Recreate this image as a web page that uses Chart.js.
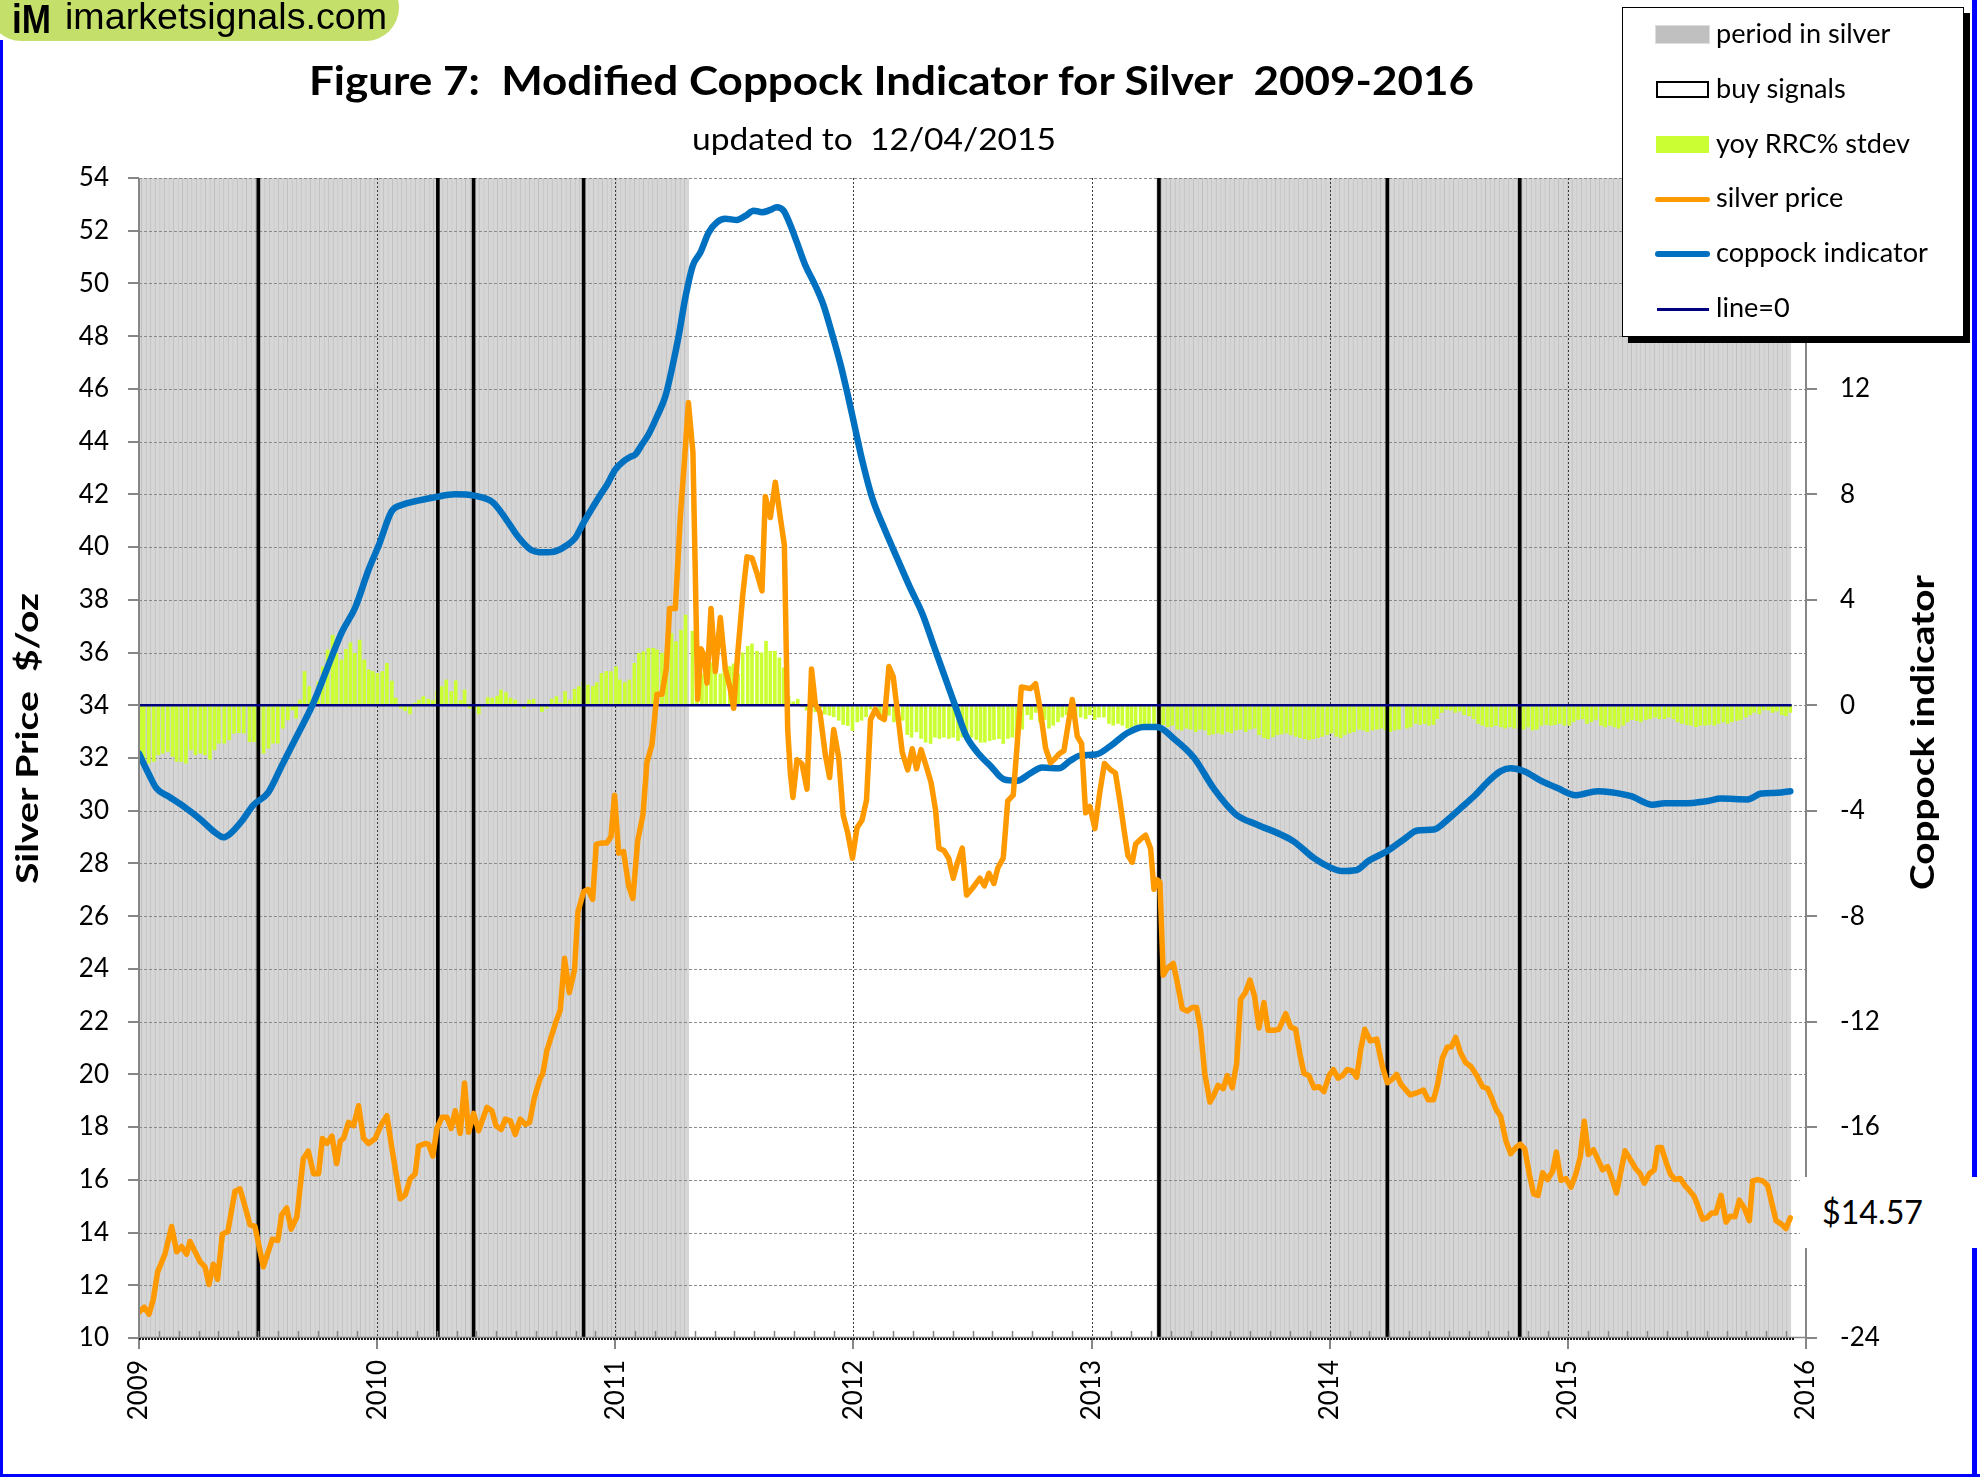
<!DOCTYPE html>
<html><head><meta charset="utf-8">
<title>Figure 7: Modified Coppock Indicator for Silver 2009-2016</title>
<script src="https://cdn.jsdelivr.net/npm/chart.js@4.4.1/dist/chart.umd.min.js"></script>
<style>
html,body{margin:0;padding:0;background:#fff;overflow:hidden;}
#wrap{position:relative;width:1980px;height:1477px;overflow:hidden;background:#fff;}
#c{position:absolute;left:0;top:0;}
.t{position:absolute;white-space:nowrap;font-family:Lato,'Open Sans',sans-serif;color:#000;line-height:normal;}
.b{font-weight:700;}
#logo{position:absolute;left:-12px;top:-26px;width:411px;height:67px;border-radius:34px;background:#c4df6a;}
.blue{position:absolute;background:#0000ff;}
#legend{position:absolute;left:1622px;top:7px;width:342px;height:330px;box-sizing:border-box;border:1.5px solid #000;background:#fff;box-shadow:6px 6px 0 #000;}
.sw{position:absolute;box-sizing:border-box;}
#lastbox{position:absolute;left:1800px;top:1177px;width:180px;height:71px;background:#fff;}
</style></head>
<body>
<div id="wrap">
  <canvas id="c" width="1980" height="1477"></canvas>
  <div class="blue" style="left:0;top:40px;width:3px;height:1437px;"></div>
  <div class="blue" style="left:1972px;top:0;width:5px;height:1477px;"></div>
  <div class="blue" style="left:0;top:1474px;width:1980px;height:3px;"></div>
  <div id="logo"></div>
  <div class="t b" id="logoIM" style="font-family:'Liberation Sans',Arial,sans-serif;font-size:41px;">iM</div>
  <div class="t" id="logoTxt" style="font-family:'Liberation Sans',Arial,sans-serif;font-size:37px;">imarketsignals.com</div>
  <div class="t b" id="title" style="font-size:40px;">Figure 7:&nbsp; Modified Coppock Indicator for Silver&nbsp; 2009-2016</div>
  <div class="t" id="subtitle" style="font-size:30px;">updated to&nbsp; 12/04/2015</div>
  <div class="t b" id="ytitle" style="font-size:31px;">Silver Price&nbsp; $/oz</div>
  <div class="t b" id="y1title" style="font-size:33px;">Coppock indicator</div>
  <div id="legend"></div>
  <div id="lastbox"></div>
  <div class="t" id="lastlabel" style="font-size:33px;">$14.57</div>
</div>
<script>
// ---------------- DATA ----------------
// silver price, $/oz : [decimal year, price]
const silverPrice = [
[2009.000,10.98],[2009.022,11.17],[2009.042,10.90],[2009.060,11.46],[2009.078,12.50],[2009.109,13.18],[2009.137,14.23],[2009.158,13.27],[2009.179,13.47],[2009.200,13.18],[2009.214,13.66],[2009.256,12.90],[2009.277,12.70],[2009.294,12.03],[2009.312,12.80],[2009.330,12.22],[2009.350,13.94],[2009.373,14.04],[2009.403,15.57],[2009.424,15.66],[2009.445,15.00],[2009.466,14.29],[2009.487,14.23],[2009.522,12.70],[2009.560,13.75],[2009.583,13.70],[2009.599,14.67],[2009.620,14.93],[2009.639,14.13],[2009.663,14.60],[2009.690,16.80],[2009.711,17.09],[2009.733,16.23],[2009.754,16.23],[2009.770,17.57],[2009.789,17.38],[2009.810,17.66],[2009.830,16.62],[2009.845,17.47],[2009.859,17.57],[2009.880,18.18],[2009.901,18.05],[2009.922,18.81],[2009.943,17.57],[2009.964,17.38],[2009.992,17.57],
[2010.020,18.14],[2010.041,18.43],[2010.062,17.19],[2010.097,15.28],[2010.118,15.43],[2010.139,16.04],[2010.160,16.23],[2010.174,17.28],[2010.202,17.38],[2010.216,17.34],[2010.234,16.90],[2010.251,17.95],[2010.272,18.37],[2010.293,18.37],[2010.311,17.95],[2010.328,18.62],[2010.349,17.76],[2010.367,19.67],[2010.384,17.80],[2010.405,18.52],[2010.426,17.86],[2010.461,18.75],[2010.482,18.62],[2010.499,18.05],[2010.521,17.91],[2010.538,18.30],[2010.559,18.24],[2010.580,17.72],[2010.601,18.30],[2010.622,18.10],[2010.640,18.18],[2010.661,19.14],[2010.685,19.86],[2010.695,20.00],[2010.713,20.91],[2010.751,22.00],[2010.769,22.44],[2010.787,24.40],[2010.807,23.10],[2010.829,23.97],[2010.843,26.16],[2010.867,26.93],[2010.885,27.02],[2010.905,26.64],[2010.920,28.72],[2010.944,28.78],[2010.965,28.78],[2010.982,29.02],[2010.997,30.59],
[2011.014,28.39],[2011.035,28.45],[2011.056,27.15],[2011.074,26.67],[2011.094,28.87],[2011.116,29.83],[2011.133,31.84],[2011.154,32.50],[2011.175,34.42],[2011.196,34.42],[2011.214,35.38],[2011.228,37.67],[2011.252,37.67],[2011.273,41.12],[2011.290,43.22],[2011.307,45.48],[2011.326,43.60],[2011.336,39.00],[2011.346,34.23],[2011.360,36.14],[2011.374,35.86],[2011.385,34.84],[2011.402,37.67],[2011.420,35.28],[2011.441,37.33],[2011.462,35.38],[2011.483,34.61],[2011.497,33.89],[2011.514,35.95],[2011.536,38.25],[2011.553,39.63],[2011.574,39.59],[2011.595,39.00],[2011.616,38.34],[2011.630,41.92],[2011.651,41.12],[2011.672,42.46],[2011.693,41.12],[2011.710,40.07],[2011.724,33.08],[2011.735,31.45],[2011.746,30.50],[2011.763,31.93],[2011.784,31.78],[2011.805,30.82],[2011.824,35.38],[2011.840,34.04],[2011.859,33.75],[2011.882,32.12],[2011.900,31.26],[2011.917,33.08],[2011.938,32.03],[2011.957,29.83],[2011.976,29.16],[2011.996,28.20],
[2012.015,29.35],[2012.036,29.64],[2012.055,30.40],[2012.072,33.46],[2012.092,33.85],[2012.110,33.56],[2012.130,33.46],[2012.149,35.47],[2012.167,35.09],[2012.186,33.66],[2012.205,32.22],[2012.228,31.55],[2012.247,32.35],[2012.265,31.59],[2012.284,32.32],[2012.307,31.65],[2012.326,31.07],[2012.345,30.02],[2012.359,28.58],[2012.380,28.49],[2012.400,28.20],[2012.419,27.44],[2012.436,28.01],[2012.457,28.58],[2012.475,26.80],[2012.499,27.05],[2012.531,27.44],[2012.550,27.15],[2012.569,27.63],[2012.590,27.24],[2012.606,27.82],[2012.629,28.20],[2012.648,30.37],[2012.671,30.59],[2012.688,32.55],[2012.705,34.69],[2012.744,34.63],[2012.765,34.82],[2012.783,33.91],[2012.807,32.37],[2012.828,31.82],[2012.849,32.00],[2012.863,32.15],[2012.884,32.28],[2012.900,33.18],[2012.919,34.22],[2012.940,32.82],[2012.958,32.55],[2012.975,29.92],[2012.993,30.16],
[2013.014,29.32],[2013.035,30.74],[2013.054,31.79],[2013.080,31.55],[2013.100,31.43],[2013.119,30.37],[2013.136,29.29],[2013.153,28.29],[2013.171,28.05],[2013.185,28.74],[2013.206,28.92],[2013.227,29.07],[2013.248,28.56],[2013.262,27.02],[2013.276,27.38],[2013.287,27.29],[2013.301,23.76],[2013.318,24.03],[2013.343,24.21],[2013.360,23.48],[2013.381,22.49],[2013.402,22.40],[2013.423,22.54],[2013.441,22.54],[2013.458,21.67],[2013.475,20.04],[2013.497,18.95],[2013.514,19.22],[2013.531,19.58],[2013.553,19.46],[2013.570,19.95],[2013.591,19.49],[2013.609,20.40],[2013.626,22.85],[2013.647,23.12],[2013.665,23.58],[2013.685,22.94],[2013.703,21.76],[2013.724,22.72],[2013.741,21.67],[2013.766,21.67],[2013.787,21.71],[2013.815,22.30],[2013.836,21.80],[2013.857,21.71],[2013.875,20.76],[2013.892,20.04],[2013.913,19.95],[2013.934,19.49],[2013.955,19.53],[2013.976,19.35],[2013.997,19.95],
[2014.015,20.18],[2014.035,19.86],[2014.053,19.95],[2014.074,20.18],[2014.095,20.13],[2014.113,19.89],[2014.130,20.94],[2014.147,21.71],[2014.170,21.27],[2014.197,21.34],[2014.221,20.31],[2014.242,19.68],[2014.263,19.82],[2014.281,20.00],[2014.298,19.64],[2014.338,19.22],[2014.368,19.31],[2014.394,19.40],[2014.413,19.04],[2014.436,19.04],[2014.452,19.58],[2014.473,20.62],[2014.494,21.04],[2014.511,21.04],[2014.529,21.40],[2014.548,20.85],[2014.571,20.44],[2014.592,20.31],[2014.618,19.95],[2014.642,19.53],[2014.663,19.46],[2014.679,19.13],[2014.698,18.68],[2014.718,18.41],[2014.739,17.50],[2014.760,16.99],[2014.782,17.23],[2014.800,17.35],[2014.819,17.17],[2014.838,16.23],[2014.856,15.47],[2014.875,15.41],[2014.894,16.27],[2014.915,16.01],[2014.936,16.32],[2014.952,17.05],[2014.971,15.98],[2014.992,16.05],
[2015.013,15.72],[2015.034,16.23],[2015.052,16.86],[2015.069,18.22],[2015.086,16.96],[2015.108,17.14],[2015.128,16.74],[2015.146,16.38],[2015.167,16.50],[2015.185,16.05],[2015.204,15.50],[2015.223,16.32],[2015.240,17.10],[2015.262,16.77],[2015.286,16.41],[2015.304,16.23],[2015.321,15.87],[2015.342,16.23],[2015.363,16.38],[2015.377,17.23],[2015.393,17.23],[2015.412,16.68],[2015.430,16.23],[2015.449,16.01],[2015.472,16.05],[2015.492,15.78],[2015.510,15.60],[2015.531,15.36],[2015.548,14.96],[2015.566,14.51],[2015.584,14.56],[2015.604,14.74],[2015.622,14.74],[2015.643,15.41],[2015.664,14.40],[2015.682,14.62],[2015.702,14.60],[2015.720,15.23],[2015.741,14.92],[2015.762,14.45],[2015.776,15.96],[2015.797,16.01],[2015.818,15.96],[2015.839,15.78],[2015.856,15.14],[2015.874,14.45],[2015.895,14.33],[2015.916,14.15],[2015.934,14.56]
];

// modified Coppock indicator (right axis): [decimal year, value]
const coppock = [
[2009.000,-1.83],[2009.040,-2.59],[2009.074,-3.16],[2009.123,-3.45],[2009.193,-3.87],[2009.256,-4.31],[2009.319,-4.82],[2009.354,-5.01],[2009.382,-4.88],[2009.431,-4.40],[2009.480,-3.79],[2009.543,-3.30],[2009.599,-2.30],[2009.669,-1.06],[2009.732,0.08],[2009.795,1.51],[2009.851,2.76],[2009.908,3.71],[2009.964,5.14],
[2010.008,6.10],[2010.061,7.36],[2010.103,7.60],[2010.167,7.75],[2010.247,7.90],[2010.326,8.00],[2010.406,7.95],[2010.485,7.70],[2010.538,7.10],[2010.591,6.40],[2010.645,5.90],[2010.698,5.80],[2010.751,5.85],[2010.797,6.07],[2010.832,6.35],[2010.867,6.93],[2010.902,7.46],[2010.937,7.98],[2010.965,8.36],
[2011.000,8.94],[2011.035,9.26],[2011.063,9.42],[2011.084,9.51],[2011.112,9.89],[2011.140,10.28],[2011.175,10.95],[2011.210,11.71],[2011.238,12.77],[2011.266,14.00],[2011.294,15.45],[2011.326,16.69],[2011.357,17.17],[2011.392,17.93],[2011.427,18.32],[2011.462,18.45],[2011.511,18.41],[2011.546,18.56],[2011.581,18.76],[2011.616,18.70],[2011.651,18.79],[2011.677,18.89],[2011.707,18.76],[2011.735,18.22],[2011.763,17.55],[2011.798,16.69],[2011.840,15.92],[2011.875,15.16],[2011.910,14.10],[2011.945,12.96],[2011.973,11.90],
[2012.001,10.76],[2012.036,9.32],[2012.078,7.89],[2012.128,6.74],[2012.183,5.59],[2012.239,4.44],[2012.289,3.48],[2012.338,2.24],[2012.387,1.00],[2012.429,-0.06],[2012.471,-1.11],[2012.520,-1.78],[2012.576,-2.30],[2012.632,-2.81],[2012.688,-2.86],[2012.744,-2.57],[2012.793,-2.36],[2012.863,-2.39],[2012.912,-2.09],[2012.954,-1.90],
[2013.017,-1.87],[2013.080,-1.54],[2013.150,-1.05],[2013.220,-0.82],[2013.276,-0.82],[2013.346,-1.27],[2013.430,-1.99],[2013.514,-3.17],[2013.605,-4.13],[2013.696,-4.53],[2013.794,-4.90],[2013.850,-5.17],[2013.934,-5.80],
[2014.004,-6.16],[2014.053,-6.29],[2014.109,-6.26],[2014.165,-5.89],[2014.242,-5.53],[2014.312,-5.08],[2014.368,-4.75],[2014.438,-4.71],[2014.494,-4.35],[2014.550,-3.90],[2014.606,-3.45],[2014.669,-2.86],[2014.718,-2.50],[2014.760,-2.39],[2014.816,-2.50],[2014.886,-2.86],[2014.956,-3.14],
[2015.034,-3.41],[2015.125,-3.26],[2015.181,-3.30],[2015.265,-3.45],[2015.356,-3.77],[2015.405,-3.72],[2015.489,-3.72],[2015.587,-3.63],[2015.643,-3.54],[2015.755,-3.57],[2015.811,-3.35],[2015.881,-3.32],[2015.934,-3.26]
];

// yoy RRC% stdev, weekly bars (right axis): [decimal year, value]
const rrcStdev = [
[2009.009,-1.94],[2009.020,-2.07],[2009.041,-2.20],[2009.062,-2.13],[2009.081,-1.88],[2009.100,-1.82],[2009.121,-1.75],[2009.141,-1.94],[2009.158,-2.13],[2009.178,-2.13],[2009.197,-2.20],[2009.218,-1.69],[2009.237,-1.88],[2009.258,-1.82],[2009.277,-1.88],[2009.298,-2.05],[2009.317,-1.69],[2009.335,-1.44],[2009.358,-1.44],[2009.379,-1.31],[2009.399,-1.06],[2009.419,-1.04],[2009.440,-1.06],[2009.464,-1.38],[2009.483,-1.38],[2009.502,-1.57],[2009.523,-1.82],[2009.544,-1.63],[2009.563,-1.44],[2009.583,-1.44],[2009.604,-0.87],[2009.625,-0.56],[2009.644,-0.18],[2009.660,-0.49],[2009.676,0.20],[2009.695,1.28],[2009.715,0.71],[2009.732,0.27],[2009.753,0.90],[2009.772,1.46],[2009.792,2.10],[2009.813,2.66],[2009.829,1.97],[2009.850,1.72],[2009.869,2.12],[2009.888,2.37],[2009.906,1.97],[2009.927,2.47],[2009.946,1.72],[2009.965,1.34],[2009.982,1.28],
[2010.001,1.21],[2010.022,1.28],[2010.041,1.59],[2010.062,0.92],[2010.078,0.27],[2010.099,-0.11],[2010.118,-0.21],[2010.138,-0.33],[2010.158,0.08],[2010.175,0.20],[2010.194,0.33],[2010.215,0.23],[2010.234,0.18],[2010.252,0.56],[2010.271,0.71],[2010.290,0.96],[2010.311,0.52],[2010.330,0.93],[2010.351,0.18],[2010.367,0.58],[2010.388,-0.11],[2010.408,-0.18],[2010.427,-0.33],[2010.445,-0.05],[2010.464,0.29],[2010.483,0.27],[2010.504,0.35],[2010.520,0.58],[2010.541,0.48],[2010.560,0.27],[2010.580,0.20],[2010.601,0.01],[2010.617,-0.11],[2010.638,0.20],[2010.657,0.23],[2010.676,0.01],[2010.692,-0.24],[2010.713,-0.11],[2010.733,0.23],[2010.753,0.33],[2010.770,0.08],[2010.789,0.52],[2010.810,0.20],[2010.829,0.61],[2010.847,0.71],[2010.866,0.90],[2010.885,0.77],[2010.906,0.71],[2010.922,0.86],[2010.942,1.21],[2010.962,1.28],[2010.982,1.28],
[2011.003,1.46],[2011.019,0.96],[2011.040,0.86],[2011.059,0.96],[2011.080,1.59],[2011.099,1.97],[2011.118,2.03],[2011.139,2.16],[2011.159,2.16],[2011.175,2.10],[2011.196,1.97],[2011.215,2.12],[2011.236,2.73],[2011.255,2.41],[2011.276,2.85],[2011.295,3.42],[2011.324,2.81],[2011.343,2.30],[2011.364,1.19],[2011.382,1.00],[2011.402,1.61],[2011.420,1.38],[2011.441,1.19],[2011.458,1.47],[2011.481,1.47],[2011.497,1.57],[2011.516,1.19],[2011.535,1.99],[2011.556,2.24],[2011.574,2.33],[2011.595,2.05],[2011.614,1.99],[2011.633,2.43],[2011.651,2.05],[2011.670,2.05],[2011.689,1.80],[2011.707,1.42],[2011.728,0.33],[2011.747,0.13],[2011.766,0.23],[2011.784,-0.06],[2011.803,-0.19],[2011.822,-0.11],[2011.840,-0.25],[2011.861,-0.11],[2011.880,-0.34],[2011.899,-0.38],[2011.917,-0.44],[2011.938,-0.57],[2011.957,-0.73],[2011.976,-0.77],[2011.996,-0.96],
[2012.016,-0.63],[2012.034,-0.57],[2012.053,-0.44],[2012.072,-0.15],[2012.093,-0.15],[2012.111,-0.34],[2012.130,-0.44],[2012.149,-0.38],[2012.170,-0.63],[2012.186,-0.44],[2012.207,-0.57],[2012.226,-1.11],[2012.244,-1.21],[2012.265,-1.01],[2012.284,-1.26],[2012.303,-1.40],[2012.324,-1.45],[2012.342,-1.21],[2012.361,-1.26],[2012.380,-1.21],[2012.401,-1.26],[2012.419,-1.21],[2012.439,-1.34],[2012.457,-1.21],[2012.475,-1.11],[2012.496,-1.21],[2012.516,-1.30],[2012.534,-1.40],[2012.552,-1.40],[2012.572,-1.34],[2012.590,-1.30],[2012.611,-1.26],[2012.629,-1.45],[2012.649,-1.26],[2012.667,-1.21],[2012.685,-1.26],[2012.709,-0.91],[2012.730,-0.36],[2012.747,-0.54],[2012.765,-0.27],[2012.783,-0.63],[2012.803,-0.54],[2012.821,-0.87],[2012.839,-0.76],[2012.859,-0.63],[2012.877,-0.45],[2012.895,-0.36],[2012.915,-0.45],[2012.933,-0.36],[2012.954,-0.45],[2012.975,-0.51],[2012.993,-0.36],
[2013.013,-0.54],[2013.031,-0.45],[2013.052,-0.45],[2013.073,-0.69],[2013.091,-0.76],[2013.111,-0.69],[2013.129,-0.76],[2013.150,-0.87],[2013.167,-0.91],[2013.185,-0.76],[2013.206,-0.91],[2013.223,-0.76],[2013.241,-0.82],[2013.262,-0.73],[2013.283,-0.76],[2013.301,-0.73],[2013.321,-0.82],[2013.339,-0.76],[2013.360,-0.91],[2013.378,-0.94],[2013.398,-0.87],[2013.416,-0.91],[2013.437,-1.00],[2013.455,-0.91],[2013.475,-0.94],[2013.493,-1.12],[2013.511,-1.09],[2013.531,-1.05],[2013.549,-1.09],[2013.570,-1.00],[2013.587,-1.05],[2013.608,-0.94],[2013.626,-0.91],[2013.647,-1.00],[2013.665,-0.91],[2013.685,-0.87],[2013.703,-1.12],[2013.724,-1.23],[2013.741,-1.27],[2013.762,-1.20],[2013.780,-1.12],[2013.798,-1.09],[2013.818,-1.05],[2013.836,-1.12],[2013.857,-1.18],[2013.875,-1.23],[2013.895,-1.27],[2013.913,-1.31],[2013.931,-1.27],[2013.951,-1.23],[2013.969,-1.18],[2013.990,-1.12],
[2014.008,-1.05],[2014.028,-1.18],[2014.046,-1.23],[2014.064,-1.12],[2014.084,-1.05],[2014.102,-1.00],[2014.123,-0.91],[2014.141,-0.94],[2014.158,-1.00],[2014.179,-0.94],[2014.198,-0.91],[2014.217,-0.87],[2014.235,-0.94],[2014.254,-1.00],[2014.273,-0.94],[2014.291,-0.91],[2014.324,-0.87],[2014.340,-0.82],[2014.361,-0.69],[2014.380,-0.73],[2014.399,-0.69],[2014.417,-0.76],[2014.436,-0.73],[2014.452,-0.51],[2014.471,-0.27],[2014.490,-0.15],[2014.508,-0.18],[2014.527,-0.27],[2014.546,-0.22],[2014.564,-0.36],[2014.585,-0.40],[2014.604,-0.51],[2014.623,-0.69],[2014.641,-0.76],[2014.660,-0.82],[2014.679,-0.82],[2014.698,-0.76],[2014.719,-0.82],[2014.737,-0.87],[2014.756,-0.82],[2014.775,-0.87],[2014.796,-0.87],[2014.814,-0.91],[2014.833,-0.82],[2014.852,-0.94],[2014.870,-0.91],[2014.889,-0.76],[2014.910,-0.73],[2014.929,-0.76],[2014.947,-0.73],[2014.966,-0.69],[2014.985,-0.76],
[2015.006,-0.76],[2015.024,-0.63],[2015.043,-0.54],[2015.062,-0.51],[2015.080,-0.69],[2015.099,-0.63],[2015.118,-0.54],[2015.139,-0.76],[2015.157,-0.82],[2015.177,-0.76],[2015.195,-0.82],[2015.213,-0.87],[2015.233,-0.76],[2015.251,-0.63],[2015.269,-0.54],[2015.289,-0.58],[2015.307,-0.63],[2015.328,-0.54],[2015.346,-0.51],[2015.366,-0.45],[2015.384,-0.51],[2015.405,-0.51],[2015.423,-0.45],[2015.443,-0.51],[2015.461,-0.63],[2015.479,-0.69],[2015.499,-0.73],[2015.517,-0.76],[2015.538,-0.82],[2015.556,-0.76],[2015.576,-0.76],[2015.594,-0.73],[2015.615,-0.76],[2015.633,-0.69],[2015.653,-0.63],[2015.671,-0.69],[2015.689,-0.63],[2015.710,-0.58],[2015.727,-0.54],[2015.748,-0.45],[2015.766,-0.36],[2015.783,-0.27],[2015.804,-0.33],[2015.822,-0.18],[2015.842,-0.18],[2015.860,-0.27],[2015.878,-0.22],[2015.898,-0.36],[2015.916,-0.40],[2015.934,-0.27]
];

// buy signal dates (decimal year)
const buySignals = [2009.501, 2010.255, 2010.405, 2010.867, 2013.283, 2014.242, 2014.798];
// periods invested in silver: [start, end]
const silverPeriods = [[2009.000, 2011.300], [2013.283, 2015.940]];
// zero line extent
const zeroLine = [[2009.000, 0], [2015.940, 0]];
// axes
const yearRange = [2009, 2016];
const priceRange = [10, 54, 2];
const coppockRange = [-24, 20, 4];
const lastPriceLabel = '$14.57';
const legendLabels = ['period in silver', 'buy signals', 'yoy RRC% stdev', 'silver price', 'coppock indicator', 'line=0'];

// ---------------- TEXT PLACEMENT ----------------
function marker(el){
  const m = document.createElement('span');
  m.style.cssText = 'display:inline-block;width:0;height:0;vertical-align:baseline;';
  el.appendChild(m); return m;
}
function place(el, left, right, baseline){
  const m = marker(el);
  el.style.left = left + 'px'; el.style.top = '0px'; el.style.transform = 'none';
  const b = m.offsetTop; const w = el.getBoundingClientRect().width;
  el.style.top = (baseline - b) + 'px';
  el.style.transformOrigin = '0 0';
  if (right != null) el.style.transform = 'scaleX(' + ((right - left) / w) + ')';
}
function placeRot(el, baselineX, yBottom, yTop){
  const m = marker(el);
  el.style.left = '0px'; el.style.top = '0px'; el.style.transform = 'none';
  const b = m.offsetTop; const w = el.getBoundingClientRect().width;
  const s = (yBottom - yTop) / w;
  el.style.left = (baselineX - b) + 'px'; el.style.top = yBottom + 'px';
  el.style.transformOrigin = '0 0';
  el.style.transform = 'rotate(-90deg) scaleX(' + s + ')';
}

function buildLegend(){
  const wrap = document.getElementById('wrap');
  const baselines = [43, 98, 153, 207, 262, 317];
  const sw = [
    'left:1655px;top:25px;width:55px;height:19px;background:#c0c0c0;border:1px solid #dedede;',
    'left:1656px;top:81px;width:53px;height:17px;background:#fff;border:2px solid #000;',
    'left:1656px;top:136px;width:53px;height:17px;background:#ccff33;',
    'left:1655px;top:197px;width:55px;height:5px;background:#ff9900;border-radius:3px;',
    'left:1655px;top:251px;width:55px;height:6px;background:#0070c0;border-radius:3px;',
    'left:1657px;top:308px;width:52px;height:2.5px;background:#000080;'
  ];
  legendLabels.forEach((lab, i) => {
    const s = document.createElement('div'); s.className = 'sw'; s.style.cssText = sw[i];
    wrap.appendChild(s);
  });
  const probe = document.createElement('div'); probe.className = 't'; probe.style.fontSize = '25px';
  probe.textContent = legendLabels[4]; wrap.appendChild(probe);
  const fs = 25 * 212 / probe.getBoundingClientRect().width; probe.remove();
  legendLabels.forEach((lab, i) => {
    const d = document.createElement('div'); d.className = 't'; d.style.fontSize = fs + 'px';
    d.textContent = lab; wrap.appendChild(d);
    place(d, 1716, null, baselines[i]);
  });
}

// ---------------- CHART ----------------
const decor = {
  id: 'decor',
  afterDatasetDraw(chart, args){
    if (args.index !== 0) return;
    const {ctx, chartArea: ca, scales: {x, y}} = chart;
    ctx.save();
    ctx.beginPath(); ctx.rect(ca.left, ca.top, ca.right - ca.left, ca.bottom - ca.top); ctx.clip();
    ctx.lineWidth = 1; ctx.strokeStyle = '#8a8a8a'; ctx.setLineDash([3, 2]);
    y.ticks.forEach(t => {
      if (t.value <= y.min) return;
      const py = Math.round(y.getPixelForValue(t.value)) + 0.5;
      ctx.beginPath(); ctx.moveTo(ca.left, py); ctx.lineTo(ca.right, py); ctx.stroke();
    });
    ctx.strokeStyle = '#3a3a3a'; ctx.setLineDash([2, 2]);
    x.ticks.forEach(t => {
      if (t.value <= x.min || t.value >= x.max) return;
      const px = Math.round(x.getPixelForValue(t.value)) + 0.5;
      ctx.beginPath(); ctx.moveTo(px, ca.top); ctx.lineTo(px, ca.bottom); ctx.stroke();
    });
    ctx.restore();
  },
  afterDraw(chart){
    const {ctx, chartArea: ca, scales: {x, y, y1}} = chart;
    const line = (a, b, c, d) => { ctx.beginPath(); ctx.moveTo(a, b); ctx.lineTo(c, d); ctx.stroke(); };
    ctx.save();
    ctx.strokeStyle = '#868686'; ctx.lineWidth = 2; ctx.setLineDash([]);
    line(ca.left, ca.top, ca.left, ca.bottom + 1);
    line(ca.right, ca.top, ca.right, ca.bottom + 1);
    y.ticks.forEach(t => { const py = Math.round(y.getPixelForValue(t.value)); line(ca.left - 11, py, ca.left, py); });
    y1.ticks.forEach(t => { const py = Math.round(y1.getPixelForValue(t.value)); line(ca.right, py, ca.right + 11, py); });
    x.ticks.forEach(t => { const px = Math.round(x.getPixelForValue(t.value)); line(px, ca.bottom, px, ca.bottom + 11); });
    ctx.lineWidth = 1.5;
    for (let yr = x.min; yr < x.max; yr++) {
      for (let m = 1; m < 12; m++) {
        const px = Math.round(x.getPixelForValue(yr + m / 12)) + 0.5;
        line(px, ca.bottom - 7, px, ca.bottom);
      }
    }
    ctx.lineWidth = 1.5; ctx.strokeStyle = '#868686';
    line(ca.left, ca.bottom - 0.5, ca.right, ca.bottom - 0.5);
    ctx.strokeStyle = '#1a1a1a'; ctx.lineWidth = 2; ctx.setLineDash([2, 1]);
    line(ca.left, ca.bottom + 1, ca.right - 12, ca.bottom + 1);
    ctx.restore();
  }
};

function makeChart(){
  const WEEK = 7 / 365.25;
  const grayBars = [];
  silverPeriods.forEach(([a, b]) => { for (let t = a; t <= b + 1e-9; t += WEEK) grayBars.push({x: t, y: priceRange[1]}); });
  const buyBars = buySignals.map(t => ({x: t, y: priceRange[1]}));
  const tickFont = {family: 'Lato', size: 26};
  new Chart(document.getElementById('c'), {
    type: 'bar',
    data: { datasets: [
      {label: 'period in silver', type: 'bar', data: grayBars, yAxisID: 'y', backgroundColor: '#d6d6d6',
       borderColor: '#bfbfbf', borderWidth: {left: 1, right: 0, top: 0, bottom: 0}, borderSkipped: false,
       barThickness: 4.6, grouped: false, order: 6},
      {label: 'buy signals', type: 'bar', data: buyBars, yAxisID: 'y', backgroundColor: '#000000',
       barThickness: 3, grouped: false, order: 4},
      {label: 'yoy RRC% stdev', type: 'bar', data: rrcStdev.map(p => ({x: p[0], y: p[1]})), yAxisID: 'y1',
       backgroundColor: '#ccff33', barThickness: 3, grouped: false, order: 5},
      {label: 'line=0', type: 'line', data: zeroLine.map(p => ({x: p[0], y: p[1]})), yAxisID: 'y1',
       borderColor: '#000080', borderWidth: 2.5, pointRadius: 0, order: 3},
      {label: 'coppock indicator', type: 'line', data: coppock.map(p => ({x: p[0], y: p[1]})), yAxisID: 'y1',
       borderColor: '#0070c0', borderWidth: 6.5, pointRadius: 0, cubicInterpolationMode: 'monotone',
       borderCapStyle: 'round', borderJoinStyle: 'round', order: 2},
      {label: 'silver price', type: 'line', data: silverPrice.map(p => ({x: p[0], y: p[1]})), yAxisID: 'y',
       borderColor: '#ff9900', borderWidth: 5.5, pointRadius: 0, tension: 0,
       borderCapStyle: 'round', borderJoinStyle: 'round', order: 1}
    ]},
    options: {
      responsive: false, animation: false, devicePixelRatio: 1,
      layout: {padding: {top: 178, left: 0, right: 0, bottom: 0}},
      plugins: {legend: {display: false}, tooltip: {enabled: false}, title: {display: false}},
      scales: {
        x: {type: 'linear', min: yearRange[0], max: yearRange[1], offset: false,
            grid: {display: false, drawTicks: false}, border: {display: false},
            ticks: {stepSize: 1, minRotation: 90, maxRotation: 90, autoSkip: false, padding: 22,
                    color: '#000', font: tickFont, callback: v => String(v)},
            afterFit: s => { s.height = 139; }},
        y: {type: 'linear', position: 'left', min: priceRange[0], max: priceRange[1],
            grid: {display: false, drawTicks: false}, border: {display: false},
            ticks: {stepSize: priceRange[2], padding: 30, color: '#000', font: tickFont},
            afterFit: s => { s.width = 139; }},
        y1: {type: 'linear', position: 'right', min: coppockRange[0], max: coppockRange[1],
            grid: {display: false, drawTicks: false}, border: {display: false},
            ticks: {stepSize: coppockRange[2], padding: 34, color: '#000', font: tickFont},
            afterFit: s => { s.width = 174; }}
      }
    },
    plugins: [decor]
  });
}

function layoutText(){
  place(document.getElementById('logoIM'), 12, 51, 33);
  place(document.getElementById('logoTxt'), 65, 387, 28.5);
  place(document.getElementById('title'), 309, 1474, 95);
  place(document.getElementById('subtitle'), 692, 1056, 150);
  document.getElementById('lastlabel').textContent = lastPriceLabel;
  place(document.getElementById('lastlabel'), 1822, 1923, 1224);
  placeRot(document.getElementById('ytitle'), 38, 884, 593);
  placeRot(document.getElementById('y1title'), 1934, 890, 575);
  buildLegend();
}

Promise.all([
  document.fonts.load('26px Lato'), document.fonts.load('bold 40px Lato'),
  document.fonts.load('37px "Liberation Sans"'), document.fonts.load('bold 41px "Liberation Sans"')
]).catch(() => {}).then(() => { layoutText(); makeChart(); });
</script>
</body></html>
